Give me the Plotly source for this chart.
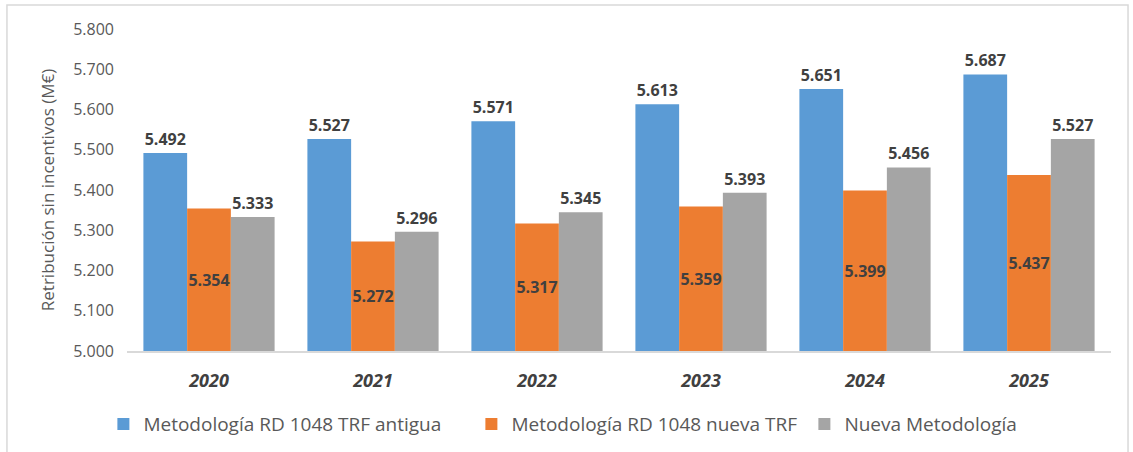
import plotly.graph_objects as go

years = ["2020", "2021", "2022", "2023", "2024", "2025"]
series_names = ["Metodología RD 1048 TRF antigua", "Metodología RD 1048 nueva TRF", "Nueva Metodología"]
antigua = [5.492, 5.527, 5.571, 5.613, 5.651, 5.687]
nueva_trf = [5.354, 5.272, 5.317, 5.359, 5.399, 5.437]
nueva_met = [5.333, 5.296, 5.345, 5.393, 5.456, 5.527]
y_ticks = [5.0, 5.1, 5.2, 5.3, 5.4, 5.5, 5.6, 5.7, 5.8]
axis_base = 5.0

colors = ["#5B9BD5", "#ED7D31", "#A5A5A5"]
legend_widths = [323, 288, 200]
FONT = "Open Sans"
LABEL_COLOR = "#404040"

fig = go.Figure()
for name, vals, col, pos, lw in zip(series_names, [antigua, nueva_trf, nueva_met], colors,
                                    ["outside", "inside", "outside"], legend_widths):
    tf = dict(family=FONT, size=16, color=LABEL_COLOR, weight="bold")
    fig.add_trace(go.Bar(
        x=years, y=[v - axis_base for v in vals], base=axis_base, name=name,
        marker=dict(color=col, line=dict(width=0)),
        text=[f"{v:.3f}" for v in vals], textposition=pos, textangle=0,
        insidetextanchor="middle", cliponaxis=False,
        textfont=tf, insidetextfont=tf, outsidetextfont=tf,
        constraintext="none", legendwidth=lw,
        hovertemplate="%{x}: %{text}<extra>" + name + "</extra>",
    ))

fig.update_layout(
    width=1133, height=452,
    margin=dict(l=127, r=22, t=29, b=101, autoexpand=False),
    paper_bgcolor="white", plot_bgcolor="white",
    barmode="group", bargap=0.2, bargroupgap=0,
    font=dict(family=FONT, color="#595959"),
    showlegend=True,
    legend=dict(orientation="h", x=-0.024, xanchor="left", y=-0.227, yanchor="middle",
                font=dict(family=FONT, size=19, color="#595959"),
                itemwidth=30, tracegroupgap=0, itemclick=False),
    uniformtext=dict(mode=False),
)
fig.update_xaxes(
    showgrid=False, showline=True, linecolor="#d9d9d9", linewidth=1.5,
    ticks="", ticklabelstandoff=13,
    tickfont=dict(family=FONT, size=18, color=LABEL_COLOR, weight="bold", style="italic"),
)
fig.update_yaxes(
    range=[5.0, 5.8], tickvals=y_ticks, tickformat=".3f",
    showgrid=False, zeroline=False, showline=False, ticks="",
    ticklabelstandoff=12,
    tickfont=dict(family=FONT, size=16, color="#595959"),
    title=dict(text="Retribución sin incentivos (M€)", standoff=14,
               font=dict(family=FONT, size=17, color="#595959")),
)
fig.add_shape(type="rect", xref="paper", yref="paper",
              x0=-0.122, x1=1.0173, y0=-0.33, y1=1.0745,
              line=dict(color="#d9d9d9", width=1.5), fillcolor="rgba(0,0,0,0)", layer="below")

fig.write_html("out.html", config={"displayModeBar": False},
               post_script="document.body.style.margin='0';document.body.style.overflow='hidden';")
